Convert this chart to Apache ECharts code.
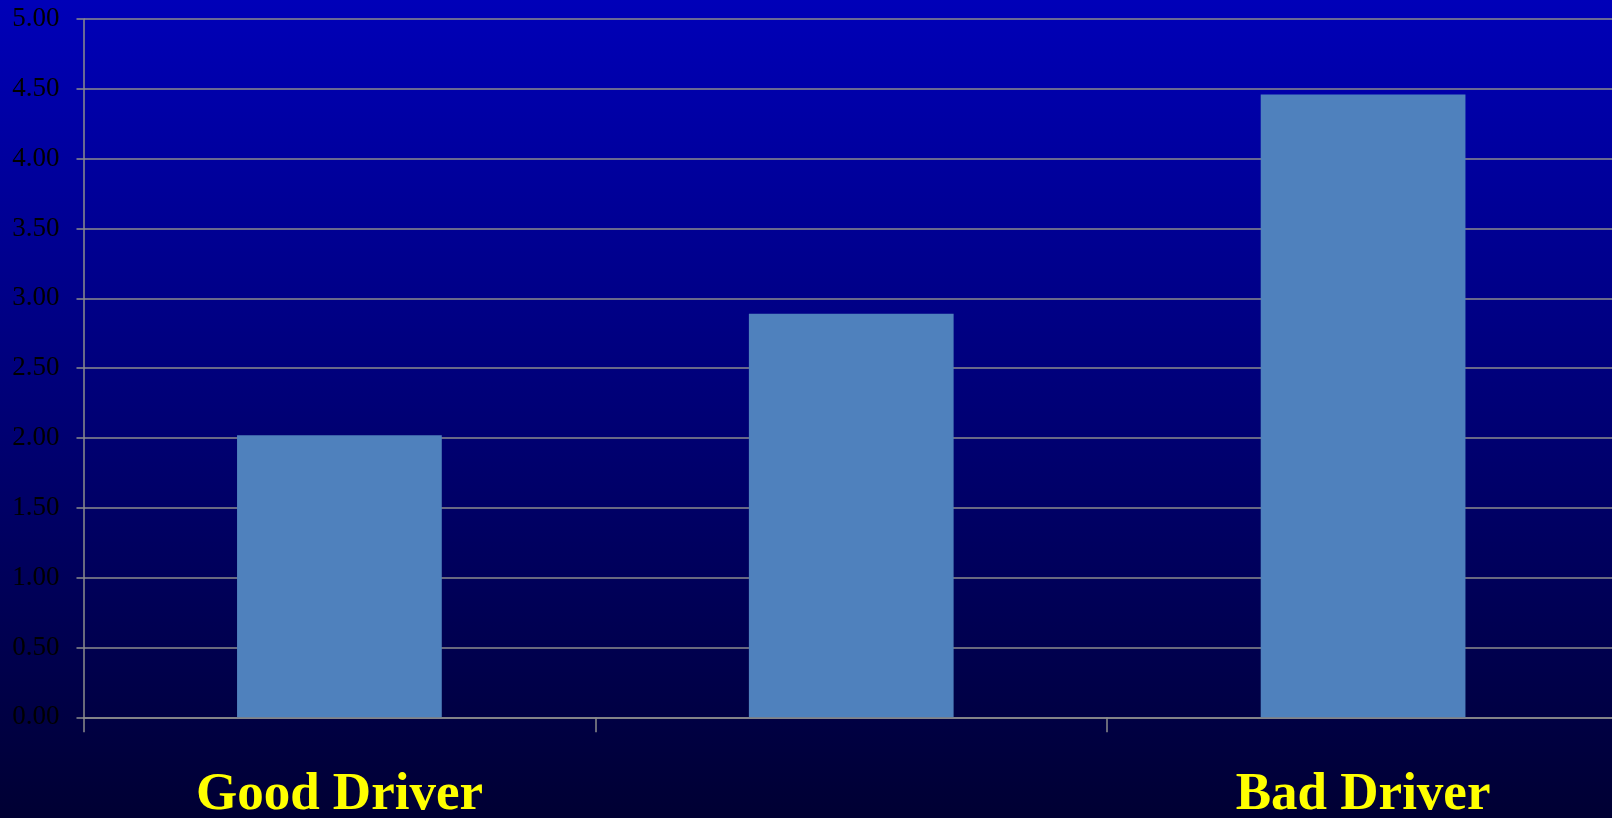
<!DOCTYPE html>
<html>
<head>
<meta charset="utf-8">
<script src="https://cdn.jsdelivr.net/npm/echarts@6/dist/echarts.min.js"></script>
<style>
html,body{margin:0;padding:0;width:1612px;height:818px;overflow:hidden;background:#000033;}
#chart{width:1612px;height:818px;}
</style>
</head>
<body>
<div id="chart"></div>
<script>
const categories = ['Good Driver', '', 'Bad Driver'];
const values = [2.02, 2.89, 4.46];
const yTicks = { min: 0, max: 5, interval: 0.5 };

const chart = echarts.init(document.getElementById('chart'));
const gray = '#8c8c8c';
chart.setOption({
  animation: false,
  backgroundColor: {
    type: 'linear', x: 0, y: 0, x2: 0, y2: 1,
    colorStops: [
      { offset: 0, color: '#0000B8' },
      { offset: 1, color: '#000033' }
    ]
  },
  grid: { left: 83.5, top: 19, bottom: 100.7, right: -7, containLabel: false, outerBoundsMode: 'none' },
  xAxis: {
    type: 'category',
    data: categories,
    boundaryGap: true,
    axisLine: { show: true, lineStyle: { color: gray, width: 1.5 } },
    axisTick: { show: true, length: 15, interval: 0, lineStyle: { color: gray, width: 1.5 } },
    axisLabel: {
      interval: 0,
      margin: 52,
      color: '#FFFF00',
      fontFamily: 'Liberation Serif',
      fontWeight: 'bold',
      fontSize: 53
    },
    splitLine: { show: false }
  },
  yAxis: {
    type: 'value',
    min: yTicks.min,
    max: yTicks.max,
    interval: yTicks.interval,
    axisLine: { show: true, lineStyle: { color: gray, width: 1.5 } },
    axisTick: { show: true, length: 7, lineStyle: { color: gray, width: 1.5 } },
    axisLabel: {
      margin: 24,
      color: '#000000',
      fontFamily: 'Liberation Serif',
      fontSize: 27,
      formatter: v => v.toFixed(2)
    },
    splitLine: { show: true, lineStyle: { color: gray, width: 1.5 } }
  },
  series: [{
    type: 'bar',
    data: values,
    barWidth: '40%',
    itemStyle: { color: '#4F81BD' }
  }]
});
</script>
</body>
</html>
